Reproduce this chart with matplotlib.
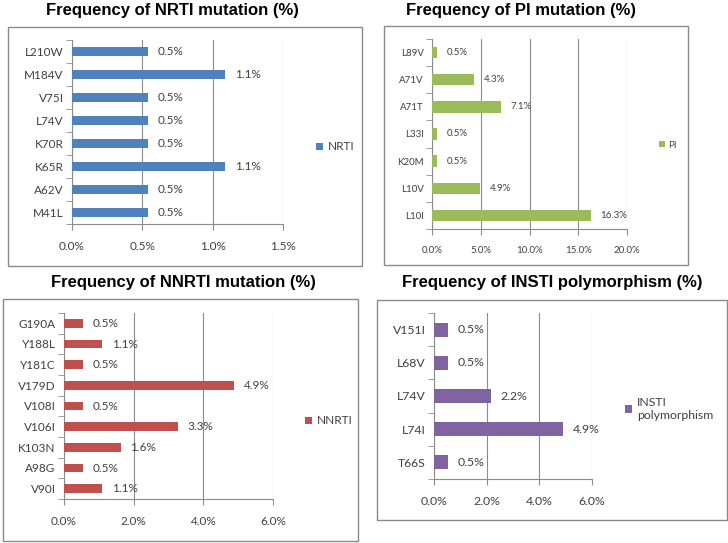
import matplotlib
matplotlib.use("Agg")
import matplotlib.pyplot as plt
from matplotlib.patches import Rectangle
from matplotlib.ticker import FuncFormatter, FixedLocator
import numpy as np

# data (percent of 184 sequences), categories listed bottom -> top
nrti_labels = ["M41L", "A62V", "K65R", "K70R", "L74V", "V75I", "M184V", "L210W"]
nrti_values = [0.54, 0.54, 1.09, 0.54, 0.54, 0.54, 1.09, 0.54]

pi_labels = ["L10I", "L10V", "K20M", "L33I", "A71T", "A71V", "L89V"]
pi_values = [16.30, 4.89, 0.54, 0.54, 7.07, 4.35, 0.54]

nnrti_labels = ["V90I", "A98G", "K103N", "V106I", "V108I", "V179D", "Y181C", "Y188L", "G190A"]
nnrti_values = [1.09, 0.54, 1.63, 3.26, 0.54, 4.89, 0.54, 1.09, 0.54]

insti_labels = ["T66S", "L74I", "L74V", "L68V", "V151I"]
insti_values = [0.54, 4.89, 2.17, 0.54, 0.54]

W, H = 728, 543
fig = plt.figure(figsize=(W / 100, H / 100), dpi=100)

def fr(x0, y0, x1, y1):
    return [x0 / W, 1 - y1 / H, (x1 - x0) / W, (y1 - y0) / H]

TXT = "#404040"
GRID = "#8c8c8c"
FONT = "Lato"

def panel(labels, values, color, name, title, box, axrect, tcenter, xmax, step,
          legpos, fsize=8.5, tfs=12):
    # frame around the chart
    bx0, by0, bx1, by1 = box
    fig.patches.append(Rectangle((bx0 / W, 1 - by1 / H), (bx1 - bx0) / W, (by1 - by0) / H,
                                 transform=fig.transFigure, fill=False,
                                 edgecolor="#8a8a8a", lw=1.0))
    fig.text(tcenter[0] / W, 1 - tcenter[1] / H, title, ha="center", va="center",
             fontsize=tfs, fontweight="bold", family="Liberation Sans")

    ax = fig.add_axes(fr(*axrect))
    y = np.arange(len(labels))
    ax.barh(y, values, height=0.42, color=color, label=name, zorder=3)
    for yi, v in zip(y, values):
        ax.annotate("%.1f%%" % v, (v, yi), xytext=(7, 0), textcoords="offset points",
                    va="center", ha="left", fontsize=fsize, color=TXT, family=FONT)
    ax.set_ylim(-0.5, len(labels) - 0.5)
    ax.set_xlim(0, xmax)
    ax.set_yticks(y)
    ax.set_yticklabels(labels, family=FONT, fontsize=fsize, color=TXT)
    ax.yaxis.set_minor_locator(FixedLocator(np.arange(-0.5, len(labels), 1.0)))
    ax.tick_params(axis="y", which="major", length=0, pad=6)
    ax.tick_params(axis="y", which="minor", length=4, color=GRID, direction="out")
    xt = np.arange(0, xmax + step / 2, step)
    ax.set_xticks(xt)
    ax.xaxis.set_major_formatter(FuncFormatter(lambda v, p: "%.1f%%" % v))
    ax.tick_params(axis="x", length=4, color=GRID, pad=8, labelsize=fsize, labelcolor=TXT)
    for lab in ax.get_xticklabels():
        lab.set_family(FONT)
    ax.grid(axis="x", color=GRID, lw=0.8, zorder=0)
    for s in ["top", "right"]:
        ax.spines[s].set_visible(False)
    for s in ["left", "bottom"]:
        ax.spines[s].set_color(GRID)
        ax.spines[s].set_linewidth(0.8)
    ax.legend(loc="center left", bbox_to_anchor=(legpos[0] / W, 1 - legpos[1] / H),
              bbox_transform=fig.transFigure, frameon=False, handlelength=0.6,
              handleheight=0.6, handletextpad=0.4,
              prop={"family": FONT, "size": fsize}, labelcolor=TXT)
    return ax

panel(nrti_labels, nrti_values, "#4f81bd", "NRTI", "Frequency of NRTI mutation (%)",
      (8, 27, 362, 266), (72, 40, 283, 224), (172, 10), 1.5, 0.5, (305, 147))

panel(pi_labels, pi_values, "#9bbb59", "PI", "Frequency of PI mutation (%)",
      (384, 26, 688, 265), (432, 39, 627, 229), (521, 10), 20, 5.0, (650, 145), fsize=7)

panel(nnrti_labels, nnrti_values, "#c0504d", "NNRTI", "Frequency of NNRTI mutation (%)",
      (3, 299, 358, 541), (64, 313, 273, 499), (183, 283), 6, 2.0, (294, 421))

panel(insti_labels, insti_values, "#8064a2", "INSTI\npolymorphism",
      "Frequency of INSTI polymorphism (%)",
      (377, 300, 727, 520), (434, 313, 592, 479), (552, 283), 6, 2.0, (614, 409),
      fsize=8.8)

fig.savefig("out.png", dpi=100)
